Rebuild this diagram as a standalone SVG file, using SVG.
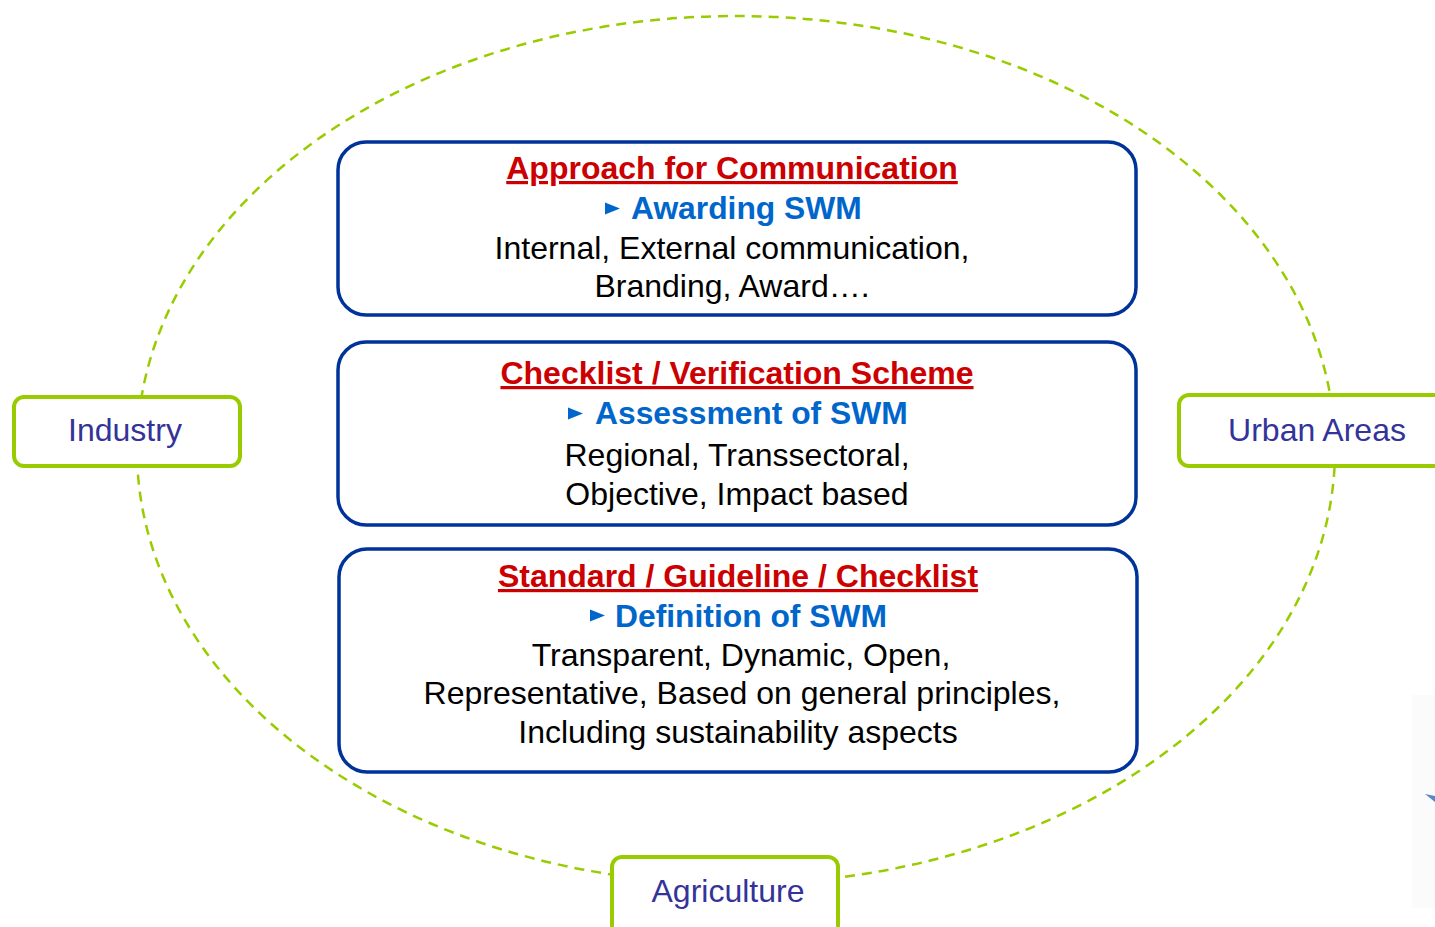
<svg xmlns="http://www.w3.org/2000/svg" width="1435" height="927" viewBox="0 0 1435 927">
<defs>
<style>
.ring{fill:none;stroke:#99cc00;stroke-width:2.5;stroke-dasharray:10 7}
.box{fill:#fff;stroke:#003399;stroke-width:3.5}
.gbox{fill:#fff;stroke:#99cc00;stroke-width:4}
.title{font-family:"Liberation Sans",Arial,sans-serif;font-weight:bold;font-size:32px;fill:#cc0000;text-decoration:underline;text-anchor:middle}
.sub{font-family:"Liberation Sans",Arial,sans-serif;font-weight:bold;font-size:31.8px;fill:#0066cc}
.body{font-family:"Liberation Sans",Arial,sans-serif;font-size:32px;fill:#000;text-anchor:middle}
.lbl{font-family:"Liberation Sans",Arial,sans-serif;font-size:32px;fill:#333399;text-anchor:middle}
.bul{fill:#0066cc}
</style>
</defs>
<rect width="1435" height="927" fill="#fff"/>
<g id="connectors">
<ellipse class="ring" cx="736" cy="450" rx="599" ry="434"/>
</g>
<g id="artifact">
<rect x="1412" y="695" width="23" height="213" fill="#fbfbfb"/>
<path d="M1425,794 L1435,796 L1435,802 Z" fill="#5588cc"/>
</g>
<g id="box-communication">
<rect class="box" x="338" y="142" width="798" height="173" rx="28"/>
<text class="title" x="732" y="179">Approach for Communication</text>
<polygon class="bul" points="605,202.5 620,208.5 605,214.5"/>
<text class="sub" x="631" y="219">Awarding SWM</text>
<text class="body" x="732" y="259">Internal, External communication,</text>
<text class="body" x="732" y="297">Branding, Award….</text>
</g>
<g id="box-verification">
<rect class="box" x="338" y="342" width="798" height="183" rx="28"/>
<text class="title" x="737" y="384">Checklist / Verification Scheme</text>
<polygon class="bul" points="568,407.5 583,413.5 568,419.5"/>
<text class="sub" x="595" y="424">Assessment of SWM</text>
<text class="body" x="737" y="466">Regional, Transsectoral,</text>
<text class="body" x="737" y="505">Objective, Impact based</text>
</g>
<g id="box-standard">
<rect class="box" x="339" y="549" width="798" height="223" rx="28"/>
<text class="title" x="738" y="587">Standard / Guideline / Checklist</text>
<polygon class="bul" points="590,609.5 605,615.5 590,621.5"/>
<text class="sub" x="615" y="627">Definition of SWM</text>
<text class="body" x="741" y="666">Transparent, Dynamic, Open,</text>
<text class="body" x="742" y="704">Representative, Based on general principles,</text>
<text class="body" x="738" y="743">Including sustainability aspects</text>
</g>
<g id="node-industry">
<rect class="gbox" x="14" y="397" width="226" height="69" rx="10"/>
<text class="lbl" x="125" y="441">Industry</text>
</g>
<g id="node-urban">
<rect class="gbox" x="1179" y="395" width="280" height="71" rx="10"/>
<text class="lbl" x="1317" y="441">Urban Areas</text>
</g>
<g id="node-agriculture">
<rect class="gbox" x="612" y="857" width="226" height="90" rx="10"/>
<text class="lbl" x="728" y="902">Agriculture</text>
</g>
</svg>
